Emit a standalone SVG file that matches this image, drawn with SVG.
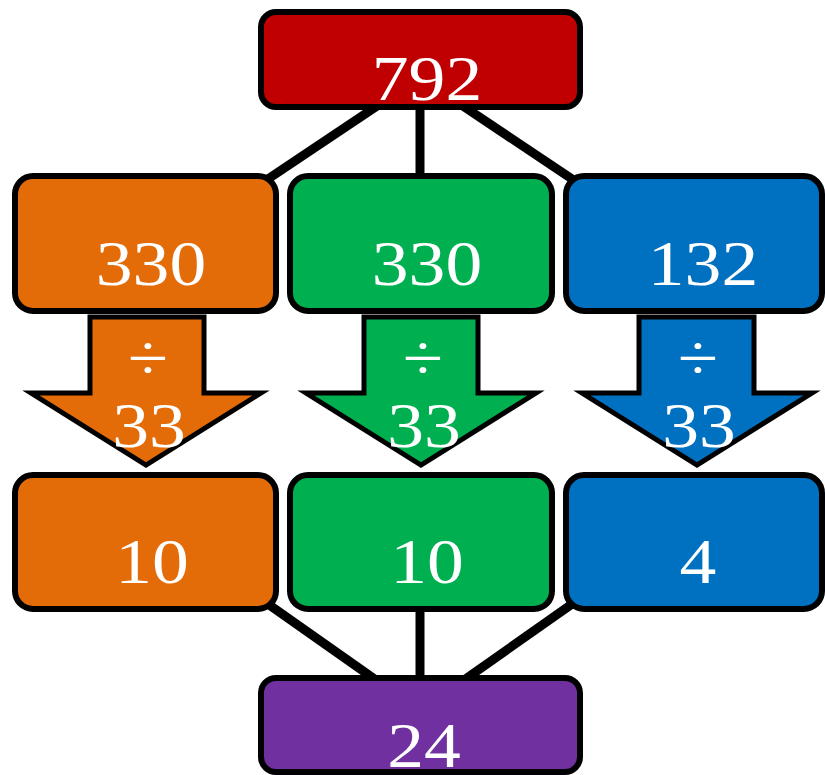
<svg xmlns="http://www.w3.org/2000/svg" width="825" height="775" viewBox="0 0 825 775">
<style>
  .box { stroke: #000; stroke-width: 6; }
  .arrow { stroke: #000; stroke-width: 5; stroke-linejoin: miter; stroke-miterlimit: 10; }
  .lbl { font-family: "Liberation Serif", "Times New Roman", serif; font-size: 64px; fill: #fff; text-anchor: middle; }
  .conn line { stroke: #000; stroke-width: 9; }
  .red { fill: #C00000; } .orange { fill: #E36C09; } .green { fill: #00B050; } .blue { fill: #0070C0; } .purple { fill: #7030A0; }
</style>
<rect width="825" height="775" fill="#fff"/>
<g id="connectors" class="conn">
  <line x1="386" y1="100" x2="259" y2="185"/>
  <line x1="420" y1="100" x2="420" y2="185"/>
  <line x1="454" y1="100" x2="581" y2="185"/>
  <line x1="258" y1="597" x2="383" y2="685"/>
  <line x1="420" y1="600" x2="420" y2="685"/>
  <line x1="582" y1="597" x2="457" y2="685"/>
</g>
<g id="n792">
  <rect class="box red" x="261" y="12" width="319" height="95" rx="15"/>
  <text class="lbl" transform="translate(427 100) scale(1.15 1)">792</text>
</g>
<g id="arrow1">
  <polygon class="arrow orange" points="90,317 204,317 204,393 261,393 146,465 31,393 90,393"/>
  <text class="lbl" transform="translate(148 379) scale(1.15 1)">÷</text>
  <text class="lbl" transform="translate(149 447) scale(1.15 1)">33</text>
</g>
<g id="arrow2">
  <polygon class="arrow green" points="364,317 478,317 478,393 536,393 421,465 306,393 364,393"/>
  <text class="lbl" transform="translate(423 379) scale(1.15 1)">÷</text>
  <text class="lbl" transform="translate(424 447) scale(1.15 1)">33</text>
</g>
<g id="arrow3">
  <polygon class="arrow blue" points="639,317 754,317 754,393 812,393 697,465 582,393 639,393"/>
  <text class="lbl" transform="translate(698 379) scale(1.15 1)">÷</text>
  <text class="lbl" transform="translate(699 447) scale(1.15 1)">33</text>
</g>
<g id="n330a">
  <rect class="box orange" x="15" y="176" width="261" height="135" rx="18"/>
  <text class="lbl" transform="translate(151 285) scale(1.15 1)">330</text>
</g>
<g id="n330b">
  <rect class="box green" x="290" y="176" width="262" height="135" rx="18"/>
  <text class="lbl" transform="translate(427 285) scale(1.15 1)">330</text>
</g>
<g id="n132">
  <rect class="box blue" x="566" y="176" width="256" height="135" rx="18"/>
  <text class="lbl" transform="translate(703 285) scale(1.15 1)">132</text>
</g>
<g id="n10a">
  <rect class="box orange" x="15" y="475" width="261" height="134" rx="18"/>
  <text class="lbl" transform="translate(152 583) scale(1.15 1)">10</text>
</g>
<g id="n10b">
  <rect class="box green" x="290" y="475" width="262" height="134" rx="18"/>
  <text class="lbl" transform="translate(427 583) scale(1.15 1)">10</text>
</g>
<g id="n4">
  <rect class="box blue" x="566" y="475" width="256" height="134" rx="18"/>
  <text class="lbl" transform="translate(698 583) scale(1.15 1)">4</text>
</g>
<g id="n24">
  <rect class="box purple" x="261" y="678" width="319" height="94" rx="15"/>
  <text class="lbl" transform="translate(424 767) scale(1.15 1)">24</text>
</g>
</svg>
